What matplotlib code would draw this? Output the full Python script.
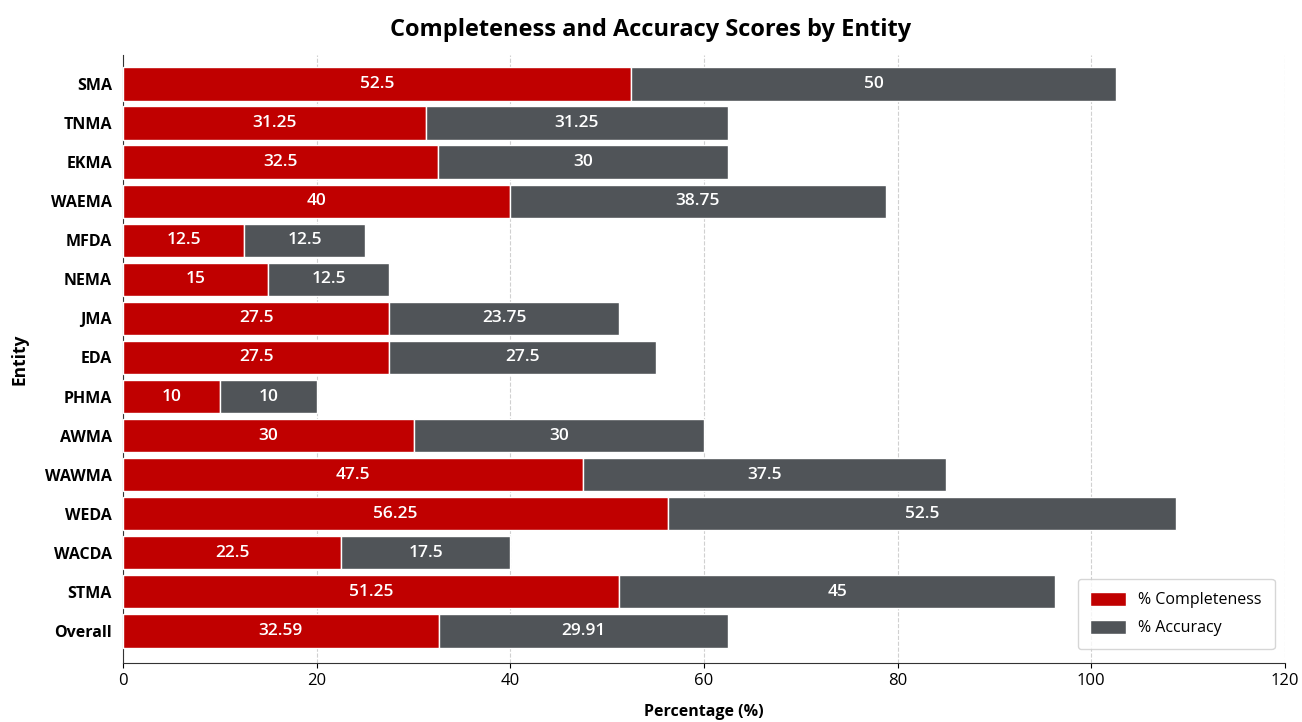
import numpy as np
import matplotlib.pyplot as plt

plt.rcParams['font.family'] = ['Open Sans', 'DejaVu Sans']

entities = ['SMA', 'TNMA', 'EKMA', 'WAEMA', 'MFDA', 'NEMA', 'JMA', 'EDA', 'PHMA',
            'AWMA', 'WAWMA', 'WEDA', 'WACDA', 'STMA', 'Overall']
completeness = [52.5, 31.25, 32.5, 40, 12.5, 15, 27.5, 27.5, 10,
                30, 47.5, 56.25, 22.5, 51.25, 32.59]
accuracy = [50, 31.25, 30, 38.75, 12.5, 12.5, 23.75, 27.5, 10,
            30, 37.5, 52.5, 17.5, 45, 29.91]

red = '#C00000'
grey = '#505458'

fig = plt.figure(figsize=(13.02, 7.22), dpi=100)
ax = fig.add_axes([123/1302, 1 - 663/722, (1285-123)/1302, (663-55)/722])

y = np.arange(len(entities))
b1 = ax.barh(y, completeness, height=0.85, color=red, edgecolor='white', linewidth=1,
             label='% Completeness', zorder=3)
b2 = ax.barh(y, accuracy, left=completeness, height=0.85, color=grey, edgecolor='white',
             linewidth=1, label='% Accuracy', zorder=3)

def fmt(v):
    return f'{v:g}'

for rects, vals in ((b1, completeness), (b2, accuracy)):
    for r, v in zip(rects, vals):
        ax.text(r.get_x() + r.get_width() / 2, r.get_y() + r.get_height() / 2, fmt(v),
                ha='center', va='center', color='white', fontsize=12.5, fontweight='semibold',
                zorder=4)

ax.set_yticks(y)
ax.set_yticklabels(entities, fontsize=11.5, fontweight='bold')
ax.set_ylim(len(entities) - 1 + 0.82, -0.74)
ax.set_xlim(0, 120)
ax.set_xticks(np.arange(0, 121, 20))
ax.tick_params(axis='x', labelsize=12)
ax.tick_params(axis='y', length=0, pad=8)
ax.xaxis.grid(True, linestyle='--', color='#d0d0d0', linewidth=0.8, zorder=0)
ax.set_axisbelow(True)
for s in ('top', 'right'):
    ax.spines[s].set_visible(False)
ax.spines['left'].set_color('#333333')
ax.spines['bottom'].set_color('#333333')

ax.set_xlabel('Percentage (%)', fontsize=11.5, fontweight='bold', labelpad=11)
ax.set_ylabel('Entity', fontsize=12.5, fontweight='bold', labelpad=12)
fig.text(0.5, 1 - 30/722, 'Completeness and Accuracy Scores by Entity', ha='center',
         va='center', fontsize=17, fontweight='bold')

leg = ax.legend(loc='lower right', fontsize=11.5, frameon=True, borderpad=0.8,
                handlelength=2.2, handleheight=1.0, labelspacing=0.7,
                bbox_to_anchor=(0.998, 0.01))
leg.get_frame().set_edgecolor('#cccccc')

fig.savefig('out.png', dpi=100)
